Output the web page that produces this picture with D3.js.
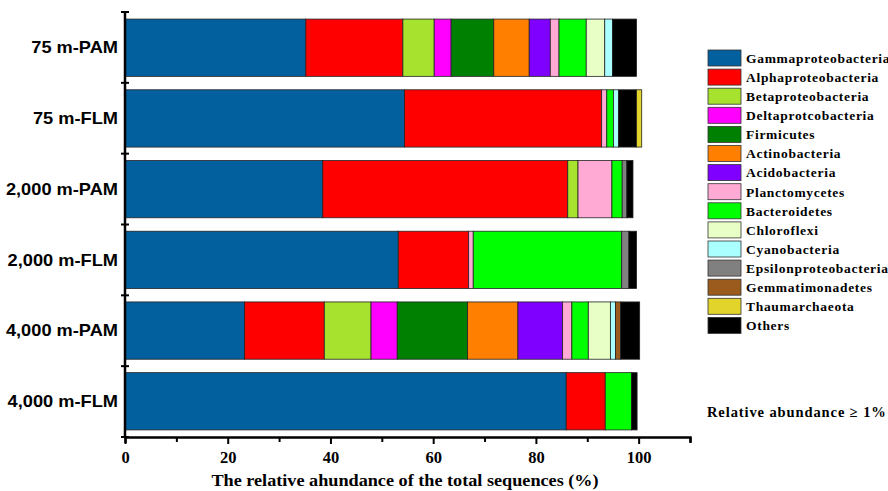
<!DOCTYPE html>
<html><head><meta charset="utf-8">
<script src="https://cdn.jsdelivr.net/npm/d3@7"></script>
<style>body{margin:0;background:#fff}svg{display:block}</style>
</head><body><svg id="c" width="888" height="491"></svg>
<script>
const samples = ["75 m-PAM","75 m-FLM","2,000 m-PAM","2,000 m-FLM","4,000 m-PAM","4,000 m-FLM"];
const taxa = ["Gammaproteobacteria","Alphaproteobacteria","Betaproteobacteria","Deltaprotcobacteria","Firmicutes","Actinobacteria","Acidobacteria","Planctomycetes","Bacteroidetes","Chloroflexi","Cyanobacteria","Epsilonproteobacteria","Gemmatimonadetes","Thaumarchaeota","Others"];
const colors = ["#03609f","#ff0000","#a6e22e","#ff00ff","#008000","#ff8000","#8000ff","#ffaad4","#00ff00","#e8ffc6","#aaffff","#808080","#9a5b1c","#e2d42a","#000000"];
// values per taxon, in sample order
const Gammaproteobacteria   = [35.2, 54.4, 38.5, 53.2, 23.3, 85.9];
const Alphaproteobacteria   = [18.9, 38.4, 47.7, 13.7, 15.5, 7.6];
const Betaproteobacteria    = [6.1, 0, 2.0, 0, 9.1, 0];
const Deltaprotcobacteria   = [3.3, 0, 0, 0, 5.1, 0];
const Firmicutes            = [8.3, 0, 0, 0, 13.7, 0];
const Actinobacteria        = [6.9, 0, 0, 0, 9.8, 0];
const Acidobacteria         = [4.1, 0, 0, 0, 8.7, 0];
const Planctomycetes        = [1.7, 1.0, 6.6, 0.9, 1.8, 0];
const Bacteroidetes         = [5.3, 1.3, 2.0, 28.9, 3.2, 5.1];
const Chloroflexi           = [3.6, 0, 0, 0, 4.3, 0];
const Cyanobacteria         = [1.5, 1.0, 0, 0, 1.0, 0];
const Epsilonproteobacteria = [0, 0, 0.9, 1.4, 0, 0];
const Gemmatimonadetes      = [0, 0, 0, 0, 1.0, 0];
const Thaumarchaeota        = [0, 1.0, 0, 0, 0, 0];
const Others                = [4.7, 3.5, 1.2, 1.5, 3.7, 1.1];
const xTicks = [0,20,40,60,80,100];

const series = {Gammaproteobacteria,Alphaproteobacteria,Betaproteobacteria,Deltaprotcobacteria,Firmicutes,Actinobacteria,Acidobacteria,Planctomycetes,Bacteroidetes,Chloroflexi,Cyanobacteria,Epsilonproteobacteria,Gemmatimonadetes,Thaumarchaeota,Others};
const table = samples.map((s,i)=>{const o={sample:s}; taxa.forEach(t=>o[t]=series[t][i]); return o;});
// stacking order (Thaumarchaeota drawn after Others, as in the figure)
const stackKeys = taxa.filter(t=>t!=="Thaumarchaeota").concat(["Thaumarchaeota"]);
const color = d3.scaleOrdinal().domain(taxa).range(colors);

const svg = d3.select("#c");
const x = d3.scaleLinear().domain([0,110]).range([125,690]);
const y = d3.scaleBand().domain(samples).range([12,437]).paddingInner(0.19).paddingOuter(0.1);
const SERIF = "'Liberation Serif','Times New Roman',serif";
const SANS = "'Liberation Sans',Arial,sans-serif";

const stacked = d3.stack().keys(stackKeys)(table);
svg.append("g").selectAll("g").data(stacked).join("g")
  .attr("fill", d=>color(d.key))
  .selectAll("rect").data(d=>d.filter(p=>p[1]-p[0]>0)).join("rect")
  .attr("x", d=>x(d[0])).attr("width", d=>x(d[1])-x(d[0]))
  .attr("y", d=>y(d.data.sample)).attr("height", y.bandwidth())
  .attr("stroke","#222").attr("stroke-width",0.8);

// X axis
const xAxisG = svg.append("g").attr("transform","translate(0,437)");
xAxisG.call(d3.axisBottom(x).tickValues(d3.range(0,111,10)).tickSize(6).tickFormat(d=>xTicks.includes(d)?d:""))
  .call(g=>g.select(".domain").attr("stroke","#000").attr("stroke-width",2.5))
  .call(g=>g.selectAll(".tick line").attr("stroke","#000").attr("stroke-width",2).attr("y2",d=>xTicks.includes(d)?7:5))
  .call(g=>g.selectAll(".tick text").attr("font-family",SERIF).attr("font-weight","bold").attr("font-size",16.5).attr("fill","#000").attr("dy","1.0em"));
svg.append("text").attr("transform","translate(405,486) scale(1.04,1)").attr("text-anchor","middle")
  .attr("font-family",SERIF).attr("font-weight","bold").attr("font-size",17.5)
  .text("The relative ahundance of the total sequences (%)");

// Y axis
const yAxisG = svg.append("g");
yAxisG.append("line").attr("x1",125).attr("x2",125).attr("y1",12).attr("y2",437).attr("stroke","#000").attr("stroke-width",2.5);
const bounds = d3.range(samples.length+1).map(i=>12 + i*(425/samples.length));
yAxisG.selectAll("line.tk").data(bounds).join("line").attr("class","tk")
  .attr("x1",121).attr("x2",129).attr("y1",d=>d).attr("y2",d=>d).attr("stroke","#000").attr("stroke-width",2);
yAxisG.selectAll("text").data(samples).join("text")
  .attr("transform",d=>`translate(118,${y(d)+y.bandwidth()/2}) scale(1.14,1)`).attr("dy","0.36em").attr("text-anchor","end")
  .attr("font-family",SANS).attr("font-weight","bold").attr("font-size",16)
  .text(d=>d);

// Legend
const lg = svg.append("g");
const items = lg.selectAll("g").data(taxa).join("g").attr("transform",(d,i)=>`translate(708,${50+i*19.1})`);
items.append("rect").attr("width",33).attr("height",16).attr("fill",d=>color(d)).attr("stroke","#333").attr("stroke-width",0.8);
items.append("text").attr("x",38).attr("y",8).attr("dy","0.36em").attr("letter-spacing",0.7)
  .attr("font-family",SERIF).attr("font-weight","bold").attr("font-size",13.5).text(d=>d);

svg.append("text").attr("x",707).attr("y",417).attr("letter-spacing",0.9)
  .attr("font-family",SERIF).attr("font-weight","bold").attr("font-size",14.5)
  .text("Relative abundance \u2265 1%");
</script></body></html>
